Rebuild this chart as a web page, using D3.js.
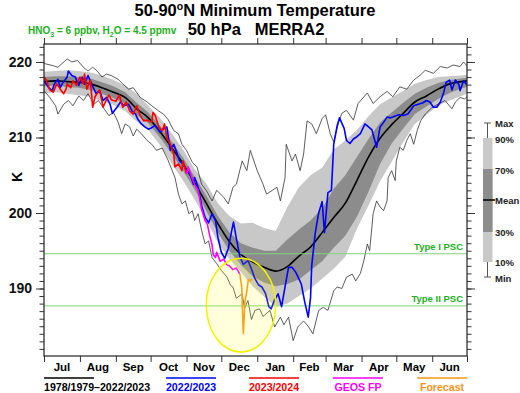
<!DOCTYPE html>
<html>
<head>
<meta charset="utf-8">
<script src="https://cdn.jsdelivr.net/npm/d3@7"></script>
<style>
body { margin: 0; background: #fff; }
svg text { font-family: Arial, "Liberation Sans", sans-serif; font-weight: bold; }
</style>
</head>
<body>
<div id="chart"></div>
<script>
// ---- data (days since 1 Jul, temperature in K) ----
var months = ["Jul", "Aug", "Sep", "Oct", "Nov", "Dec", "Jan", "Feb", "Mar", "Apr", "May", "Jun"];
var monthStart = [0, 31, 62, 92, 123, 153, 184, 215, 243, 274, 304, 335, 365];
var yMajor = [190, 200, 210, 220];

// 1978/1979-2022/2023 climatology
var climDay = [0, 10, 20, 30, 40, 50, 60, 70, 80, 90, 100, 110, 120, 130, 140, 150, 160, 170, 180,
    190, 200, 210, 220, 230, 240, 250, 260, 270, 280, 290, 300, 310, 320, 330, 340, 350, 360, 365];
var climMean = [217.4, 217.5, 217.4, 217.3, 217.1, 216.6, 216.0, 215.3, 213.8, 212.6, 210.8, 208.7, 206.5,
    204.0, 201.3, 198.6, 196.2, 194.5, 193.5, 192.8, 192.3, 192.9, 194.3, 195.5, 197.4, 199.4, 201.3,
    204.3, 207.4, 209.9, 211.7, 213.2, 214.7, 215.5, 216.4, 217.1, 217.4, 217.5];
var climP90 = [218.7, 218.8, 218.9, 218.8, 218.6, 218.2, 217.6, 216.9, 215.8, 214.2, 212.6, 210.6, 208.4,
    205.8, 203.9, 201.3, 199.6, 198.6, 198.7, 198.0, 197.6, 200.8, 203.4, 205.0, 206.0, 208.4, 209.6,
    211.0, 212.8, 214.4, 215.3, 216.2, 217.1, 217.6, 218.0, 218.1, 218.2, 218.3];
var climP70 = [218.0, 218.1, 218.1, 218.0, 217.8, 217.3, 216.8, 216.0, 214.6, 213.3, 211.6, 209.5, 207.3,
    204.8, 202.3, 199.6, 197.4, 196.0, 195.4, 195.0, 195.0, 196.5, 197.8, 199.0, 200.6, 203.2, 205.0,
    207.4, 209.8, 212.0, 213.3, 214.6, 215.8, 216.6, 217.2, 217.6, 217.8, 217.9];
var climP30 = [216.8, 216.9, 216.7, 216.6, 216.3, 215.8, 215.2, 214.5, 213.0, 211.9, 210.0, 207.9, 205.6,
    203.1, 200.3, 197.4, 195.0, 193.1, 191.6, 190.8, 190.3, 190.6, 191.2, 192.4, 193.6, 195.4, 197.0,
    199.5, 202.8, 206.5, 209.2, 211.2, 213.1, 214.1, 215.1, 215.9, 216.5, 216.7];
var climP10 = [215.8, 216.0, 215.8, 215.6, 215.4, 214.8, 214.3, 213.5, 212.1, 211.0, 209.0, 206.6, 204.3,
    201.8, 199.1, 196.1, 193.9, 192.2, 190.3, 188.9, 187.6, 188.0, 189.0, 190.0, 191.3, 192.6, 194.2,
    197.9, 201.0, 204.2, 206.8, 209.4, 211.8, 213.0, 214.2, 214.9, 215.5, 215.8];

var climMax = [[0, 219.8], [8, 219.5], [12, 219.3], [20, 220.4], [24, 220.0], [29, 220.2], [34, 219.3], [38, 218.8],
    [42, 219.3], [46, 218.8], [50, 218.0], [54, 218.4], [58, 218.2], [64, 217.7], [68, 217.1], [73, 216.4],
    [77, 216.6], [83, 215.3], [89, 214.7], [93, 214.2], [99, 213.5], [103, 213.1], [107, 212.4], [112, 210.9],
    [116, 210.5], [119, 209.1], [123, 208.3], [128, 206.7], [132, 206.1], [136, 203.8], [140, 203.0],
    [145, 201.6], [149, 203.0], [155, 202.1], [159, 201.2], [163, 203.4], [166, 203.8], [171, 206.9],
    [175, 205.6], [178, 208.3], [184, 205.6], [189, 203.8], [192, 202.5], [197, 203.0], [201, 203.4],
    [204, 201.6], [208, 204.7], [209, 209.1], [214, 206.9], [217, 207.8], [221, 205.6], [224, 207.8],
    [227, 212.2], [231, 211.8], [235, 210.5], [240, 212.5], [243, 213.0], [247, 210.5], [250, 209.4],
    [254, 211.9], [257, 213.2], [261, 213.6], [267, 212.3], [271, 214.5], [279, 215.9], [284, 214.5],
    [290, 215.4], [296, 216.1], [301, 215.4], [307, 216.7], [313, 216.4], [319, 217.6], [325, 218.3],
    [329, 218.9], [336, 218.5], [342, 219.4], [348, 219.2], [353, 219.6], [359, 219.4], [362, 220.0], [365, 219.5]];
var climMin = [[0, 216.2], [5, 215.3], [10, 214.2], [12, 213.1], [17, 214.4], [21, 214.9], [25, 214.2], [30, 215.5],
    [34, 214.9], [38, 215.8], [43, 214.4], [47, 214.9], [51, 214.0], [56, 212.9], [60, 213.3], [64, 212.0],
    [67, 210.5], [70, 211.8], [74, 211.4], [77, 210.2], [80, 211.1], [84, 210.5], [89, 209.6], [93, 209.1],
    [97, 208.3], [102, 208.6], [107, 207.0], [113, 204.7], [116, 202.5], [119, 201.2], [122, 201.6],
    [125, 199.9], [128, 200.3], [130, 199.0], [133, 199.9], [136, 197.7], [139, 195.9], [142, 196.3],
    [145, 194.1], [149, 193.3], [153, 192.4], [158, 191.5], [161, 190.4], [163, 190.2], [166, 188.7],
    [171, 189.3], [173, 187.4], [176, 188.4], [179, 185.9], [182, 187.1], [186, 187.3], [189, 186.3],
    [195, 187.1], [199, 184.9], [204, 186.2], [207, 185.2], [211, 186.2], [215, 183.1], [219, 184.9],
    [224, 185.7], [228, 185.0], [232, 184.0], [237, 187.1], [241, 187.5], [245, 187.1], [250, 189.7],
    [253, 190.2], [257, 190.0], [261, 191.5], [266, 191.9], [269, 191.0], [273, 192.0], [276, 193.7],
    [279, 195.9], [281, 195.0], [284, 199.9], [287, 201.6], [290, 200.8], [293, 200.3], [296, 201.6],
    [297, 204.7], [300, 205.6], [303, 204.3], [304, 206.9], [307, 208.7], [310, 208.3], [313, 209.6],
    [316, 210.5], [319, 209.1], [322, 210.9], [325, 212.2], [329, 213.1], [335, 214.0], [340, 214.4],
    [346, 214.9], [352, 213.8], [355, 214.7], [359, 215.3], [363, 215.1], [365, 215.4]];

// 2022/2023 season
var season2223 = [[0, 217.5], [4, 216.6], [7, 216.2], [9, 217.1], [12, 217.7], [14, 216.6], [16, 217.2], [20, 218.0],
    [21, 218.8], [24, 218.2], [27, 218.0], [30, 216.9], [33, 218.0], [35, 217.1], [38, 218.2], [41, 217.1],
    [45, 215.8], [48, 216.2], [51, 214.9], [54, 215.3], [57, 214.4], [59, 213.2], [63, 214.0], [66, 214.7],
    [69, 214.2], [73, 214.4], [76, 213.5], [79, 213.1], [81, 212.4], [84, 211.8], [87, 211.4], [90, 211.1],
    [93, 211.3], [96, 211.6], [100, 210.7], [103, 211.1], [106, 211.4], [109, 208.3], [112, 209.1],
    [115, 207.8], [117, 206.9], [120, 206.5], [123, 205.6], [126, 205.2], [129, 203.8], [130, 204.7],
    [133, 203.4], [136, 201.0], [139, 199.4], [142, 198.7], [145, 199.9], [148, 199.0], [150, 196.8],
    [153, 194.8], [156, 194.0], [159, 195.3], [162, 197.7], [163.5, 198.8], [166, 196.6], [169, 194.2],
    [172, 193.2], [176, 193.7], [179, 192.6], [182, 191.3], [185, 190.5], [188, 190.2], [191, 189.4],
    [194, 187.6], [196, 187.3], [199, 188.5], [202, 189.3], [205, 187.6], [208, 190.2], [211, 192.8],
    [214, 192.8], [217, 192.2], [219, 191.6], [222, 190.6], [225, 188.2], [228, 186.2], [230, 188.8],
    [231, 193.0], [234, 197.3], [237, 200.0], [240, 201.5], [242, 197.4], [245, 202.7], [248, 203.0],
    [250, 209.1], [253, 211.6], [255, 212.6], [259, 211.2], [261, 209.6], [264, 209.2], [267, 209.8],
    [270, 210.1], [273, 210.5], [277, 211.8], [280, 211.4], [283, 211.0], [287, 208.7], [290, 211.4],
    [293, 212.0], [296, 212.7], [299, 212.6], [301, 212.7], [306, 213.0], [310, 212.9], [314, 213.1],
    [319, 214.2], [323, 214.4], [327, 214.6], [330, 214.9], [333, 214.7], [336, 214.0], [339, 214.0],
    [342, 214.7], [345, 216.0], [347, 217.3], [350, 217.6], [352, 216.3], [355, 217.6], [358, 217.0],
    [359, 216.2], [362, 217.5], [365, 217.0]];

// 2023/2024 season (MERRA2), then GEOS FP, then forecast
var season2324 = [[0, 218.0], [2, 217.6], [5, 216.3], [8, 216.0], [11, 217.1], [14, 216.4], [17, 215.8], [19, 216.4],
    [20, 217.1], [23, 216.6], [25, 217.5], [28, 216.9], [31, 218.0], [34, 217.1], [35, 218.4], [37, 216.4],
    [40, 217.6], [42, 214.0], [44, 215.4], [48, 216.3], [51, 214.0], [53, 214.7], [56, 215.6], [58, 215.0],
    [62, 214.8], [65, 215.6], [68, 214.0], [71, 214.7], [74, 213.5], [77, 213.1], [80, 214.2], [83, 212.9],
    [86, 212.2], [89, 212.3], [93, 212.0], [94, 213.3], [96, 212.9], [99, 211.4], [102, 210.9], [104, 211.8],
    [106, 210.0], [109, 209.1], [112, 207.8], [113, 206.1], [116, 206.5], [119, 205.6], [120, 206.9], [123, 205.2]];
var geosFP = [[123, 205.2], [124.5, 206.1], [127.5, 204.7], [130, 203.8], [133, 203.0], [136, 200.5], [139, 199.0],
    [141, 198.5], [143, 197.0], [145, 195.8], [146, 194.5], [148, 194.1], [149, 194.8], [152, 193.6],
    [155, 193.9], [158, 193.1], [160, 193.0], [163, 192.5], [166, 192.7], [169, 191.9]];
var forecast = [[169, 191.9], [170.6, 190.2], [172, 184.0], [173.4, 188.3], [175, 189.6], [176.3, 191.2],
    [178, 191.0], [179.5, 191.3]];

var pscTypeI = 194.6, pscTypeII = 187.7;
var highlight = { day: 170, k: 187.8, halfDays: 30, halfK: 6.2 };

var legendNames = ["1978/1979\u20132022/2023", "2022/2023", "2023/2024", "GEOS FP", "Forecast"];
var legendColors = ["#000000", "#0000ff", "#ff0000", "#ff00ff", "#f7941d"];

// ---- layout ----
var margin = { top: 44, right: 53, bottom: 37, left: 44 },
    width = 520 - margin.left - margin.right,
    height = 393 - margin.top - margin.bottom;

var svg = d3.select("#chart")
    .append("svg")
    .attr("width", 520)
    .attr("height", 393);

var g = svg.append("g")
    .attr("transform", "translate(" + margin.left + "," + margin.top + ")");

var x = d3.scaleLinear().domain([0, 365]).range([0, width]);
var y = d3.scaleLinear().domain([181.06, 222.38]).range([height, 0]);

g.append("clipPath").attr("id", "plotclip")
    .append("rect").attr("width", width).attr("height", height);
var plot = g.append("g").attr("clip-path", "url(#plotclip)");

var clim = climDay.map(function (d, i) {
    return { day: d, mean: climMean[i], p10: climP10[i], p30: climP30[i], p70: climP70[i], p90: climP90[i] };
});

// bands
plot.append("path").datum(clim)
    .attr("fill", "#c8c8c8")
    .attr("d", d3.area().x(function (d) { return x(d.day); })
        .y0(function (d) { return y(d.p10); }).y1(function (d) { return y(d.p90); }));
plot.append("path").datum(clim)
    .attr("fill", "#8c8c8c")
    .attr("d", d3.area().x(function (d) { return x(d.day); })
        .y0(function (d) { return y(d.p30); }).y1(function (d) { return y(d.p70); }));

var line = d3.line().x(function (d) { return x(d[0]); }).y(function (d) { return y(d[1]); });

// max / min
[climMax, climMin].forEach(function (s) {
    plot.append("path").datum(s)
        .attr("fill", "none").attr("stroke", "#333").attr("stroke-width", 0.8)
        .attr("d", line);
});

// mean
plot.append("path").datum(clim)
    .attr("fill", "none").attr("stroke", "#000").attr("stroke-width", 1.6)
    .attr("d", d3.line().curve(d3.curveMonotoneX)
        .x(function (d) { return x(d.day); }).y(function (d) { return y(d.mean); }));

// PSC thresholds
[pscTypeI, pscTypeII].forEach(function (v) {
    plot.append("line")
        .attr("x1", 0).attr("x2", width)
        .attr("y1", y(v)).attr("y2", y(v))
        .attr("stroke", "#7fd37f").attr("stroke-width", 1);
});
g.append("text").attr("x", width - 4).attr("y", y(pscTypeI) - 4)
    .attr("text-anchor", "end").attr("fill", "#22b022").style("font-size", "9.5px")
    .text("Type I PSC");
g.append("text").attr("x", width - 4).attr("y", y(pscTypeII) - 4)
    .attr("text-anchor", "end").attr("fill", "#22b022").style("font-size", "9.5px")
    .text("Type II PSC");

// seasons
[[season2223, legendColors[1]], [season2324, legendColors[2]], [geosFP, legendColors[3]], [forecast, legendColors[4]]]
    .forEach(function (s) {
        plot.append("path").datum(s[0])
            .attr("fill", "none").attr("stroke", s[1]).attr("stroke-width", 1.6)
            .attr("stroke-linejoin", "round")
            .attr("d", line);
    });

// highlight ellipse
plot.append("ellipse")
    .attr("cx", x(highlight.day)).attr("cy", y(highlight.k))
    .attr("rx", x(highlight.halfDays) - x(0))
    .attr("ry", y(highlight.k - highlight.halfK) - y(highlight.k))
    .attr("fill", "rgba(255,255,0,0.14)")
    .attr("stroke", "#f2f200").attr("stroke-width", 1.5);

// ---- axes ----
var minorK = d3.range(182, 223);
var axisColor = "#333";

function yAxisSide(axisFn, tx) {
    var minor = g.append("g").attr("transform", "translate(" + tx + ",0)")
        .call(axisFn(y).tickValues(minorK).tickSize(4.5).tickFormat(""));
    var major = g.append("g").attr("transform", "translate(" + tx + ",0)")
        .call(axisFn(y).tickValues(yMajor).tickSize(8).tickPadding(4).tickFormat(d3.format("d")));
    [minor, major].forEach(function (a) {
        a.select(".domain").remove();
        a.selectAll("line").attr("stroke", axisColor);
    });
    return major;
}
var left = yAxisSide(d3.axisLeft, 0);
left.selectAll("text").style("font-size", "14px").attr("fill", "#111")
    .style("font-family", "Arial, 'Liberation Sans', sans-serif").style("font-weight", "bold");
var right = yAxisSide(d3.axisRight, width);
right.selectAll("text").remove();

var xb = g.append("g").attr("transform", "translate(0," + height + ")")
    .call(d3.axisBottom(x).tickValues(monthStart).tickSize(6).tickFormat(""));
var xt = g.append("g")
    .call(d3.axisTop(x).tickValues(monthStart).tickSize(6).tickFormat(""));
[xb, xt].forEach(function (a) {
    a.select(".domain").remove();
    a.selectAll("line").attr("stroke", axisColor);
});

// frame
g.append("rect").attr("width", width).attr("height", height)
    .attr("fill", "none").attr("stroke", "#222").attr("stroke-width", 1.2);

// month labels
g.selectAll(".mlab").data(months).enter().append("text")
    .attr("class", "mlab")
    .attr("x", function (d, i) { return x((monthStart[i] + monthStart[i + 1]) / 2); })
    .attr("y", height + 15)
    .attr("text-anchor", "middle")
    .style("font-size", "11.5px")
    .text(function (d) { return d; });

// y label
svg.append("text")
    .attr("transform", "translate(22,177) rotate(-90)")
    .attr("text-anchor", "middle")
    .style("font-size", "14px")
    .text("K");

// titles
svg.append("text").attr("x", 255).attr("y", 16).attr("text-anchor", "middle")
    .style("font-size", "16.5px")
    .call(function (t) {
        t.append("tspan").text("50-90");
        t.append("tspan").attr("dy", -6).style("font-size", "10.5px").text("o");
        t.append("tspan").attr("dy", 6).text("N Minimum Temperature");
    });
svg.append("text").attr("x", 256).attr("y", 34.5).attr("text-anchor", "middle")
    .style("font-size", "16.5px").style("white-space", "pre")
    .text("50 hPa   MERRA2");

svg.append("text").attr("x", 28).attr("y", 34).attr("fill", "#22b022")
    .style("font-size", "10px")
    .call(function (t) {
        t.append("tspan").text("HNO");
        t.append("tspan").attr("dy", 3).style("font-size", "7px").text("3");
        t.append("tspan").attr("dy", -3).text(" = 6 ppbv, H");
        t.append("tspan").attr("dy", 3).style("font-size", "7px").text("2");
        t.append("tspan").attr("dy", -3).text("O = 4.5 ppmv");
    });

// bottom legend
var legX = [44, 166, 249, 333, 417];
legendNames.forEach(function (name, i) {
    svg.append("line")
        .attr("x1", legX[i]).attr("x2", legX[i] + 50)
        .attr("y1", 378).attr("y2", 378)
        .attr("stroke", legendColors[i]).attr("stroke-width", 1.6);
    svg.append("text")
        .attr("x", i == 0 ? legX[i] : legX[i] + 25)
        .attr("y", 390.5)
        .attr("text-anchor", i == 0 ? "start" : "middle")
        .attr("fill", legendColors[i])
        .style("font-size", "10.6px")
        .text(name);
});

// right-hand key
var key = svg.append("g").attr("transform", "translate(483,0)");
key.append("line").attr("x1", 4.5).attr("x2", 4.5).attr("y1", 123).attr("y2", 277).attr("stroke", "#555");
key.append("line").attr("x1", 1).attr("x2", 8).attr("y1", 123).attr("y2", 123).attr("stroke", "#555");
key.append("line").attr("x1", 1).attr("x2", 8).attr("y1", 277).attr("y2", 277).attr("stroke", "#555");
key.append("rect").attr("x", 0).attr("y", 138).attr("width", 9.5).attr("height", 124).attr("fill", "#c8c8c8");
key.append("rect").attr("x", 0).attr("y", 169).attr("width", 9.5).attr("height", 63).attr("fill", "#8c8c8c");
key.append("line").attr("x1", 0).attr("x2", 12).attr("y1", 200).attr("y2", 200)
    .attr("stroke", "#000").attr("stroke-width", 1.5);
var keyLabels = [["Max", 123], ["90%", 139], ["70%", 170], ["Mean", 200], ["30%", 232], ["10%", 262], ["Min", 278]];
keyLabels.forEach(function (k) {
    key.append("text").attr("x", 12).attr("y", k[1] + 3.5)
        .style("font-size", "9.5px").attr("fill", "#222")
        .text(k[0]);
});
</script>
</body>
</html>
